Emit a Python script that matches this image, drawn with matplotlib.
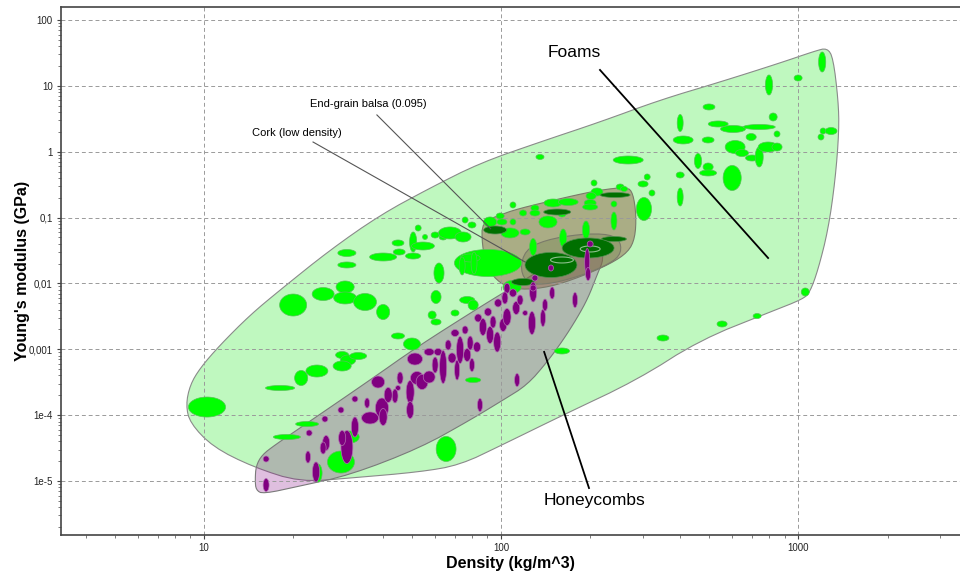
import numpy as np
import matplotlib
matplotlib.use("Agg")
import matplotlib.pyplot as plt
from matplotlib.patches import Polygon

plt.rcParams['font.family'] = ['Liberation Sans', 'DejaVu Sans']

# ---------------------------------------------------------------
# Material data, stored as log10 of density (kg/m^3) and log10 of
# Young's modulus (GPa); ellipse spans are given in decades.
# ---------------------------------------------------------------
foam_lrho = [1.010, 1.256, 1.327, 1.380, 1.279, 1.347, 1.461, 1.492, 1.384, 1.815,
             1.300, 1.401, 1.475, 1.475, 1.542, 1.603, 1.465, 1.485, 1.519, 1.465,
             1.653, 1.700, 1.781, 1.768, 1.781, 1.845, 1.886, 1.906, 1.906, 2.205,
             2.037, 1.721, 1.704, 1.653, 1.657, 1.744, 1.778, 1.805, 1.737, 1.603,
             1.704, 1.481, 1.481, 1.791, 1.828, 1.872, 1.879, 1.902, 1.963, 1.997,
             2.003, 2.040, 2.040, 1.919, 1.956, 2.030, 2.081, 2.074, 2.114, 2.114,
             2.158, 2.175, 2.226, 2.205, 2.108, 2.209, 2.286, 2.313, 2.323, 2.303,
             2.300, 2.300, 2.380, 2.380, 2.401, 2.414, 2.492, 2.478, 2.508, 2.481,
             2.428, 2.131, 3.081, 3.000, 2.902, 2.700, 2.916, 2.603, 2.731, 2.781,
             2.869, 2.613, 2.697, 2.929, 2.842, 2.788, 2.811, 2.845, 2.869, 2.899,
             2.929, 3.084, 3.111, 3.077, 2.663, 2.697, 2.697, 2.778, 2.603, 2.603,
             3.024, 2.744, 2.862, 2.545, 1.896, 1.909, 1.869]
foam_lE = [-3.877, -3.588, -3.436, -3.330, -4.332, -4.135, -4.712, -4.332, -4.879, -4.514,
           -2.328, -2.161, -2.054, -2.221, -2.282, -2.434, -3.087, -3.163, -3.102, -3.254,
           -2.798, -2.920, -2.206, -2.480, -2.586, -2.449, -2.252, -2.328, -3.467, -3.026,
           -2.054, -1.159, -1.371, -1.386, -1.523, -1.295, -1.265, -1.295, -1.432, -1.599,
           -1.584, -1.538, -1.720, -1.842, -1.234, -1.295, -1.037, -1.113, -1.067, -0.976,
           -1.067, -0.809, -1.067, -1.599, -1.690, -1.234, -1.219, -0.931, -0.855, -0.931,
           -1.067, -0.779, -0.764, -0.946, -1.447, -1.310, -1.189, -0.475, -0.612, -0.673,
           -0.779, -0.840, -0.794, -1.052, -0.536, -0.566, -0.384, -0.490, -0.627, -0.870,
           -0.126, -0.080, 1.362, 1.119, 1.013, 0.679, 0.527, 0.436, 0.421, 0.345,
           0.375, 0.178, 0.178, 0.269, 0.223, 0.071, -0.020, -0.096, -0.080, 0.071,
           0.071, 0.314, 0.314, 0.223, -0.141, -0.232, -0.323, -0.399, -0.354, -0.688,
           -2.130, -2.616, -2.495, -2.829, -1.614, -1.690, -1.735]
foam_drho = [.125, .098, .044, .074, .091, .077, .091, .061, .027, .067,
             .091, .074, .061, .077, .077, .044, .044, .051, .057, .061,
             .044, .057, .034, .027, .034, .027, .051, .034, .051, .051,
             .061, .020, .024, .040, .040, .017, .027, .027, .077, .091,
             .051, .061, .061, .034, .077, .054, .020, .027, .044, .027,
             .034, .020, .020, .067, .226, .061, .034, .024, .027, .034,
             .061, .061, .067, .027, .024, .024, .024, .020, .040, .034,
             .040, .051, .020, .020, .027, .024, .020, .034, .020, .051,
             .101, .027, .024, .027, .024, .040, .027, .020, .067, .084,
             .108, .067, .040, .020, .034, .067, .044, .044, .027, .067,
             .034, .020, .040, .020, .024, .034, .057, .061, .027, .020,
             .027, .034, .027, .040, .067, .020, .020]
foam_dE = [.304, .076, .228, .182, .076, .076, .334, .182, .273, .380,
           .334, .197, .182, .182, .258, .228, .106, .152, .106, .152,
           .091, .182, .197, .121, .091, .091, .106, .152, .076, .091,
           .197, .091, .304, .091, .091, .076, .091, .091, .121, .121,
           .091, .106, .091, .304, .182, .152, .091, .091, .152, .091,
           .091, .091, .091, .121, .410, .152, .091, .091, .091, .091,
           .182, .121, .106, .091, .258, .273, .273, .091, .121, .106,
           .106, .091, .091, .273, .091, .076, .091, .091, .091, .349,
           .121, .076, .304, .091, .304, .091, .121, .258, .091, .106,
           .076, .121, .091, .091, .106, .197, .106, .091, .304, .152,
           .121, .091, .106, .091, .228, .121, .091, .380, .091, .273,
           .121, .091, .076, .091, .121, .334, .273]

# Natural cellular materials (balsa, cork)
natural_lrho = [1.980, 2.189, 2.384, 2.380, 2.074, 2.168, 2.293]
natural_lE = [-1.189, -0.916, -0.657, -1.326, -1.978, -1.720, -1.462]
natural_drho = [.077, .091, .101, .084, .077, .175, .175]
natural_dE = [.121, .091, .076, .076, .106, .380, .304]
# Sub-grade records drawn as outlines inside the large cork ellipses
cork_sub_lrho = [2.205, 2.300]
cork_sub_lE = [-1.644, -1.477]
cork_sub_drho = [.077, .067]
cork_sub_dE = [.091, .091]

# Honeycombs
honey_lrho = [1.209, 1.209, 1.354, 1.350, 1.377, 1.407, 1.411, 1.461, 1.481, 1.465,
              1.508, 1.508, 1.549, 1.586, 1.599, 1.559, 1.603, 1.653, 1.694, 1.694,
              1.710, 1.717, 1.734, 1.758, 1.758, 1.788, 1.805, 1.835, 1.852, 1.845,
              1.862, 1.886, 1.902, 1.919, 1.923, 1.939, 1.956, 1.963, 1.987, 1.990,
              2.007, 2.020, 2.040, 2.051, 2.054, 2.081, 2.104, 2.108, 2.141, 2.172,
              2.249, 1.929, 2.114, 2.168, 2.300, 2.290, 2.293, 2.108, 1.401, 1.643,
              2.020, 1.896, 1.973, 2.064, 2.148, 1.660, 1.620, 1.778, 1.822, 1.879,
              2.013]
honey_lE = [-4.666, -5.061, -4.271, -4.636, -4.863, -4.059, -4.423, -3.922, -4.484, -4.347,
            -3.755, -4.180, -3.816, -3.497, -3.892, -4.043, -4.028, -3.588, -3.649, -3.922,
            -3.148, -3.436, -3.497, -3.421, -3.041, -3.041, -3.269, -3.132, -3.315, -2.753,
            -3.011, -3.087, -3.239, -2.965, -2.525, -2.662, -2.434, -2.783, -2.890, -2.297,
            -2.631, -2.510, -2.145, -2.373, -3.467, -2.449, -2.601, -2.130, -2.525, -2.145,
            -2.252, -3.846, -1.918, -1.766, -1.401, -1.675, -1.857, -2.070, -4.499, -3.709,
            -2.073, -2.905, -2.586, -2.252, -2.328, -3.436, -3.694, -3.239, -2.935, -2.707,
            -2.221]
honey_drho = [.020, .020, .020, .017, .024, .020, .024, .020, .040, .024,
              .020, .024, .017, .044, .044, .057, .027, .017, .027, .024,
              .051, .044, .040, .040, .034, .027, .024, .027, .017, .027,
              .024, .024, .017, .024, .024, .024, .024, .024, .024, .024,
              .024, .027, .024, .024, .017, .017, .024, .024, .017, .017,
              .017, .017, .020, .017, .020, .017, .017, .020, .020, .020,
              .020, .020, .020, .020, .017, .020, .027, .020, .020, .020,
              .020]
honey_dE = [.091, .197, .091, .182, .304, .091, .228, .091, .501, .228,
            .091, .304, .152, .182, .304, .182, .258, .076, .349, .258,
            .182, .197, .228, .182, .106, .106, .501, .152, .304, .106,
            .410, .197, .197, .152, .121, .258, .121, .258, .304, .121,
            .197, .258, .121, .197, .197, .076, .349, .304, .258, .182,
            .228, .197, .091, .091, .091, .410, .197, .091, .182, .212,
            .152, .212, .182, .152, .182, .182, .228, .243, .152, .121,
            .182]

# Family envelopes (log10 density, log10 modulus)
foam_env_lrho = [0.939, 0.953, 0.987, 1.054, 1.155, 1.256, 1.424, 1.593, 1.761, 1.929,
                 2.131, 2.333, 2.535, 2.737, 2.939, 3.057, 3.098, 3.118, 3.135, 3.138,
                 3.125, 3.101, 3.067, 3.040, 3.017, 2.906, 2.670, 2.458, 2.209, 2.003,
                 1.862, 1.727, 1.492, 1.323, 1.165, 1.030, 0.953]
foam_env_lE = [-3.846, -3.542, -3.284, -2.935, -2.480, -2.100, -1.493, -0.961, -0.551, -0.172,
               0.147, 0.451, 0.785, 1.058, 1.347, 1.529, 1.575, 1.423, 0.785, 0.329,
               -0.430, -1.189, -1.796, -2.130, -2.237, -2.434, -2.859, -3.466, -3.998, -4.453,
               -4.757, -4.863, -4.955, -5.016, -4.787, -4.484, -4.120]
honey_env_lrho = [1.172, 1.175, 1.195, 1.239, 1.323, 1.559, 1.717, 1.929, 2.040, 2.165,
                  2.266, 2.327, 2.347, 2.323, 2.293, 2.256, 2.209, 2.155, 2.088, 2.007,
                  1.896, 1.727, 1.492, 1.323, 1.199, 1.175]
honey_env_lE = [-4.985, -4.772, -4.605, -4.453, -4.195, -3.467, -2.965, -2.358, -2.054, -1.705,
                -1.493, -1.462, -1.614, -1.872, -2.221, -2.525, -2.859, -3.193, -3.542, -3.770,
                -4.074, -4.499, -4.909, -5.076, -5.197, -5.137]
balsa_env_lrho = [1.936, 1.997, 2.054, 2.222, 2.333, 2.424, 2.444, 2.455, 2.451, 2.428,
                  2.367, 2.266, 2.165, 2.064, 1.997, 1.953, 1.936]
balsa_env_lE = [-1.067, -0.961, -0.870, -0.688, -0.582, -0.536, -0.627, -0.961, -1.310, -1.523,
                -1.705, -1.902, -2.054, -2.100, -2.009, -1.766, -1.417]
cork_env_lrho = [2.081, 2.148, 2.266, 2.367, 2.404, 2.401, 2.350, 2.266, 2.165, 2.091, 2.064]
cork_env_lE = [-1.493, -1.341, -1.250, -1.250, -1.371, -1.584, -1.735, -1.887, -2.009, -2.009, -1.796]

# Labels and leader lines (log10 coordinates)
labels = ["Foams", "Honeycombs", "End-grain balsa (0.095)", "Cork (low density)"]
label_lrho = [2.246, 2.313, 1.552, 1.313]
label_lE = [1.499, -5.289, 0.724, 0.284]
leader_lrho = [(2.333, 2.899), (2.145, 2.296), (1.582, 1.965), (1.367, 2.081)]
leader_lE = [(1.241, -1.614), (-3.040, -5.107), (0.558, -1.170), (0.147, -1.675)]

y_ticks = [100, 10, 1, 0.1, 0.01, 0.001, 1e-4, 1e-5]
y_ticklabels = ["100", "10", "1", "0,1", "0,01", "0,001", "1e-4", "1e-5"]
x_ticks = [10, 100, 1000]
x_ticklabels = ["10", "100", "1000"]


def chaikin(xs, ys, n_iter=2):
    pts = np.column_stack([xs, ys])
    for _ in range(n_iter):
        nxt = np.roll(pts, -1, axis=0)
        q = 0.75 * pts + 0.25 * nxt
        r = 0.25 * pts + 0.75 * nxt
        pts = np.empty((2 * len(q), 2))
        pts[0::2] = q
        pts[1::2] = r
    return pts


def envelope(ax, lx, ly, face, edge, alpha, z):
    pts = 10 ** chaikin(lx, ly, 2)
    ax.add_patch(Polygon(pts, closed=True, facecolor=face, edgecolor='none',
                         alpha=alpha, zorder=z))
    ax.add_patch(Polygon(pts, closed=True, facecolor='none', edgecolor=edge,
                         lw=0.8, zorder=z + 0.01))


def ellipses(ax, lx, ly, dx, dy, face, edge, lw, z):
    t = np.linspace(0, 2 * np.pi, 64, endpoint=False)
    for cx, cy, wx, wy in zip(lx, ly, dx, dy):
        xs = 10 ** (cx + 0.5 * wx * np.cos(t))
        ys = 10 ** (cy + 0.5 * wy * np.sin(t))
        ax.add_patch(Polygon(np.column_stack([xs, ys]), closed=True,
                             facecolor=face, edgecolor=edge, lw=lw, zorder=z))


fig = plt.figure(figsize=(9.6, 5.75), dpi=100)
ax = fig.add_axes([61 / 960, 40 / 575, 899 / 960, 528 / 575])
ax.set_xscale('log')
ax.set_yscale('log')
ax.set_xlim(10 ** 0.5185, 10 ** 3.545)
ax.set_ylim(10 ** -5.82, 10 ** 2.197)

# envelopes
envelope(ax, foam_env_lrho, foam_env_lE, '#bff8bf', '#8a8a8a', 1.0, 1)
envelope(ax, honey_env_lrho, honey_env_lE, '#800080', '#7a7a7a', 0.25, 1.2)
envelope(ax, balsa_env_lrho, balsa_env_lE, '#97644c', '#7a7a6a', 0.5, 1.4)
envelope(ax, cork_env_lrho, cork_env_lE, '#5a6e3c', '#7a7a6a', 0.25, 1.6)

# grid
ax.grid(True, which='major', color='#9a9a9a', linestyle=(0, (4, 3)), lw=0.7)
for gl in ax.get_xgridlines() + ax.get_ygridlines():
    gl.set_zorder(2)

# material bubbles
ellipses(ax, foam_lrho, foam_lE, foam_drho, foam_dE, '#00ff00', '#55c455', 0.5, 3)
ellipses(ax, natural_lrho, natural_lE, natural_drho, natural_dE, '#007000', '#4f8f4f', 0.5, 4)
ellipses(ax, cork_sub_lrho, cork_sub_lE, cork_sub_drho, cork_sub_dE, 'none', '#8cc08c', 0.8, 4.5)
ellipses(ax, honey_lrho, honey_lE, honey_drho, honey_dE, '#800080', '#b070b0', 0.5, 5)

# annotations
sizes = [12.5, 12.5, 8, 8]
lws = [1.3, 1.3, 0.8, 0.8]
lcols = ['#000000', '#000000', '#555555', '#555555']
for txt, lx, ly, fs in zip(labels, label_lrho, label_lE, sizes):
    ax.text(10 ** lx, 10 ** ly, txt, fontsize=fs, ha='center', va='center', zorder=7)
for (x0, x1), (y0, y1), lw, c in zip(leader_lrho, leader_lE, lws, lcols):
    ax.plot([10 ** x0, 10 ** x1], [10 ** y0, 10 ** y1], color=c, lw=lw, zorder=6)

# axes styling
ax.set_xticks(x_ticks)
ax.set_xticklabels(x_ticklabels)
ax.set_yticks(y_ticks)
ax.set_yticklabels(y_ticklabels)
ax.tick_params(axis='both', which='major', labelsize=7, length=3, width=0.8,
               color='#444444', labelcolor='#222222', pad=3)
ax.tick_params(axis='both', which='minor', length=2, width=0.6, color='#666666')
for side in ['left', 'top', 'bottom']:
    ax.spines[side].set_color('#444444')
    ax.spines[side].set_linewidth(1.2)
ax.spines['right'].set_visible(False)

ax.set_xlabel('Density (kg/m^3)', fontsize=11.5, fontweight='bold', labelpad=2)
ax.set_ylabel("Young's modulus (GPa)", fontsize=11.5, fontweight='bold', labelpad=-1)

fig.savefig('out.png', dpi=100)
